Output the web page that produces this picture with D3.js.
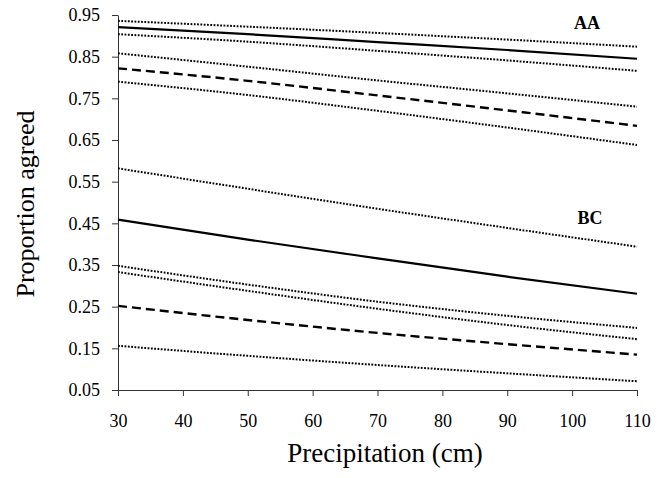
<!DOCTYPE html>
<html>
<head>
<meta charset="utf-8">
<script src="https://cdn.jsdelivr.net/npm/d3@7"></script>
<style>
  body { margin: 0; background: #fff; }
  text { font-family: "Liberation Serif", "Times New Roman", serif; fill: #000; }
</style>
</head>
<body>
<div id="chart"></div>
<script>
// precipitation (cm) at which the curves were read
var precip = [30, 50, 70, 90, 110];

// AA group
var aaSolidHi = [0.936, 0.922, 0.907, 0.891, 0.874];
var aaSolid   = [0.921, 0.904, 0.885, 0.866, 0.845];
var aaSolidLo = [0.904, 0.886, 0.864, 0.841, 0.816];
var aaDashHi  = [0.858, 0.826, 0.793, 0.762, 0.730];
var aaDash    = [0.822, 0.792, 0.757, 0.721, 0.684];
var aaDashLo  = [0.790, 0.758, 0.720, 0.680, 0.638];

// BC group
var bcSolidHi = [0.582, 0.533, 0.485, 0.439, 0.394];
var bcSolid   = [0.459, 0.411, 0.366, 0.322, 0.281];
var bcDashHi  = [0.348, 0.303, 0.262, 0.228, 0.199];
var bcSolidLo = [0.333, 0.288, 0.245, 0.206, 0.172];
var bcDash    = [0.252, 0.218, 0.187, 0.160, 0.135];
var bcDashLo  = [0.156, 0.132, 0.110, 0.090, 0.071];

var xTicks = [30, 40, 50, 60, 70, 80, 90, 100, 110];
var yTicks = [0.05, 0.15, 0.25, 0.35, 0.45, 0.55, 0.65, 0.75, 0.85, 0.95];

var series = [
  {vals: aaSolidHi, style: "dot"},
  {vals: aaSolid,   style: "solid"},
  {vals: aaSolidLo, style: "dot"},
  {vals: aaDashHi,  style: "dot"},
  {vals: aaDash,    style: "dash"},
  {vals: aaDashLo,  style: "dot"},
  {vals: bcSolidHi, style: "dot"},
  {vals: bcSolid,   style: "solid"},
  {vals: bcDashHi,  style: "dot"},
  {vals: bcSolidLo, style: "dot"},
  {vals: bcDash,    style: "dash"},
  {vals: bcDashLo,  style: "dot"}
];

var width = 665, height = 478;
var margin = {top: 15, right: 28, bottom: 88, left: 118};

var svg = d3.select("#chart")
  .append("svg")
    .attr("width", width)
    .attr("height", height);

var x = d3.scaleLinear()
  .domain([30, 110])
  .range([margin.left, width - margin.right]);

var y = d3.scaleLinear()
  .domain([0.05, 0.95])
  .range([height - margin.bottom, margin.top]);

// axes
var xAxis = svg.append("g")
  .attr("transform", "translate(0," + (height - margin.bottom) + ")")
  .call(d3.axisBottom(x).tickValues(xTicks).tickSize(6).tickPadding(18).tickSizeOuter(0));

var yAxis = svg.append("g")
  .attr("transform", "translate(" + margin.left + ",0)")
  .call(d3.axisLeft(y).tickValues(yTicks).tickFormat(d3.format(".2f")).tickSize(6).tickPadding(12).tickSizeOuter(0));

[xAxis, yAxis].forEach(function(g) {
  g.selectAll("path, line").attr("stroke", "#333").attr("stroke-width", 1);
  g.selectAll("text")
    .style("font-family", '"Liberation Serif", "Times New Roman", serif')
    .style("font-size", "18px")
    .attr("fill", "#000");
});

// lines
var line = d3.line()
  .x(function(d, i) { return x(precip[i]); })
  .y(function(d) { return y(d); })
  .curve(d3.curveMonotoneX);

series.forEach(function(s) {
  var p = svg.append("path")
    .datum(s.vals)
    .attr("fill", "none")
    .attr("stroke", "#000")
    .attr("d", line);
  if (s.style == "solid") {
    p.attr("stroke-width", 2.2);
  } else if (s.style == "dash") {
    p.attr("stroke-width", 2.4).attr("stroke-dasharray", "9,5");
  } else {
    p.attr("stroke-width", 2).attr("stroke-dasharray", "1.8,1.5");
  }
});

// group labels
svg.append("text")
  .attr("x", 587).attr("y", 29)
  .attr("text-anchor", "middle")
  .style("font-size", "18px")
  .style("font-weight", "bold")
  .text("AA");

svg.append("text")
  .attr("x", 590).attr("y", 224)
  .attr("text-anchor", "middle")
  .style("font-size", "18px")
  .style("font-weight", "bold")
  .text("BC");

// axis titles
svg.append("text")
  .attr("x", 385)
  .attr("y", 462)
  .attr("text-anchor", "middle")
  .style("font-size", "27px")
  .text("Precipitation (cm)");

svg.append("text")
  .attr("transform", "translate(34,204)rotate(-90)")
  .attr("text-anchor", "middle")
  .style("font-size", "26px")
  .text("Proportion agreed");
</script>
</body>
</html>
